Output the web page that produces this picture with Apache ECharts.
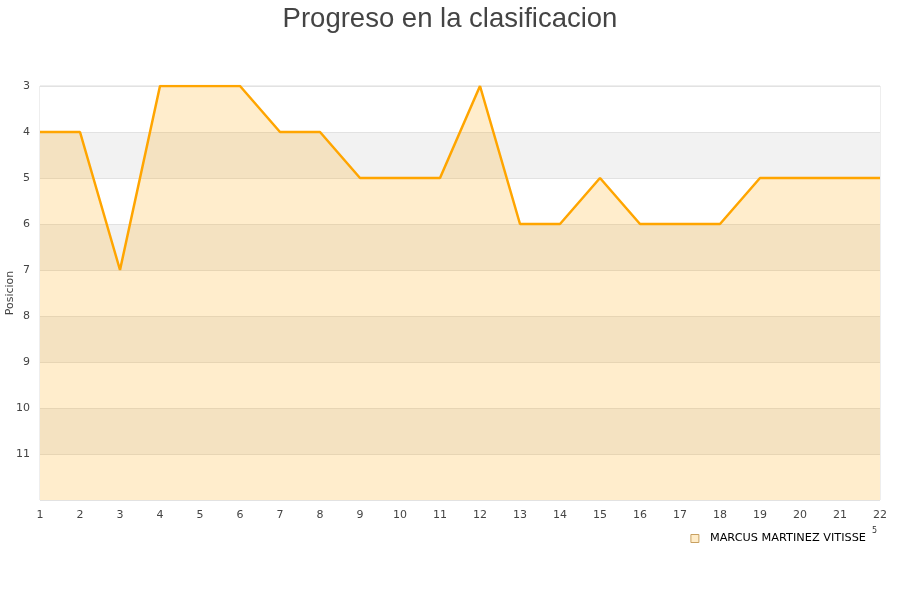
<!DOCTYPE html>
<html><head><meta charset="utf-8">
<script src="https://cdn.jsdelivr.net/npm/echarts@6/dist/echarts.min.js"></script>
<style>html,body{margin:0;padding:0;background:#fff}#c{width:900px;height:600px}</style>
</head><body><div id="c"></div>
<script>
const jornadas = ['1','2','3','4','5','6','7','8','9','10','11','12','13','14','15','16','17','18','19','20','21','22'];
const posiciones = [4,4,7,3,3,3,4,4,5,5,5,3,6,6,5,6,6,6,5,5,5,5];
const seriesName = 'MARCUS MARTINEZ VITISSE';
const titleText = 'Progreso en la clasificacion';
const yAxisName = 'Posicion';

const chart = echarts.init(document.getElementById('c'));
chart.setOption({
  animation: false,
  title: { text: titleText, left: 'center', top: 0,
    textStyle: { fontFamily: 'Liberation Sans, Arial', fontSize: 27.5, fontWeight: 'normal', color: '#444' } },
  grid: { left: 40, right: 20, top: 86, bottom: 100, show: true, borderColor: '#ddd', borderWidth: 1,
    backgroundColor: 'transparent', containLabel: false, outerBoundsMode: 'none' },
  legend: { right: 29, top: 528, itemWidth: 8, itemHeight: 8, icon: 'rect',
    textStyle: { fontFamily: 'DejaVu Sans', fontSize: 11.3, color: '#000', padding: [0, 0, 0, 6] },
    data: [{ name: seriesName, itemStyle: { color: '#ffecc8', borderColor: '#c8a060', borderWidth: 1 } }] },
  graphic: [
    { type: 'text', left: 872, top: 527, style: { text: '5', fontSize: 8, fill: '#333', fontFamily: 'DejaVu Sans' } },
    { type: 'text', x: 10, y: 293, rotation: Math.PI / 2,
      style: { text: yAxisName, fontSize: 11, fill: '#444', fontFamily: 'DejaVu Sans', align: 'center', verticalAlign: 'middle' } }
  ],
  xAxis: { type: 'category', data: jornadas, boundaryGap: false,
    axisLine: { show: false }, axisTick: { show: false },
    axisLabel: { fontFamily: 'DejaVu Sans', fontSize: 11, color: '#444', margin: 10 },
    splitLine: { show: false } },
  yAxis: { type: 'value', inverse: true, min: 3, max: 12, interval: 1,
    axisLine: { show: false }, axisTick: { show: false },
    axisLabel: { fontFamily: 'DejaVu Sans', fontSize: 11, color: '#444', margin: 10,
      formatter: v => v >= 12 ? '' : String(v) },
    splitLine: { show: true, lineStyle: { color: '#e2e2e2', width: 1 } },
    splitArea: { show: true, areaStyle: { color: ['#ffffff', '#f2f2f2'] } } },
  series: [{
    name: seriesName, type: 'line', data: posiciones, symbol: 'none',
    lineStyle: { color: '#ffa500', width: 2.5 },
    itemStyle: { color: '#ffa500' },
    areaStyle: { color: 'rgba(255,165,0,0.2)', opacity: 1, origin: 'end' }
  }]
});
</script></body></html>
